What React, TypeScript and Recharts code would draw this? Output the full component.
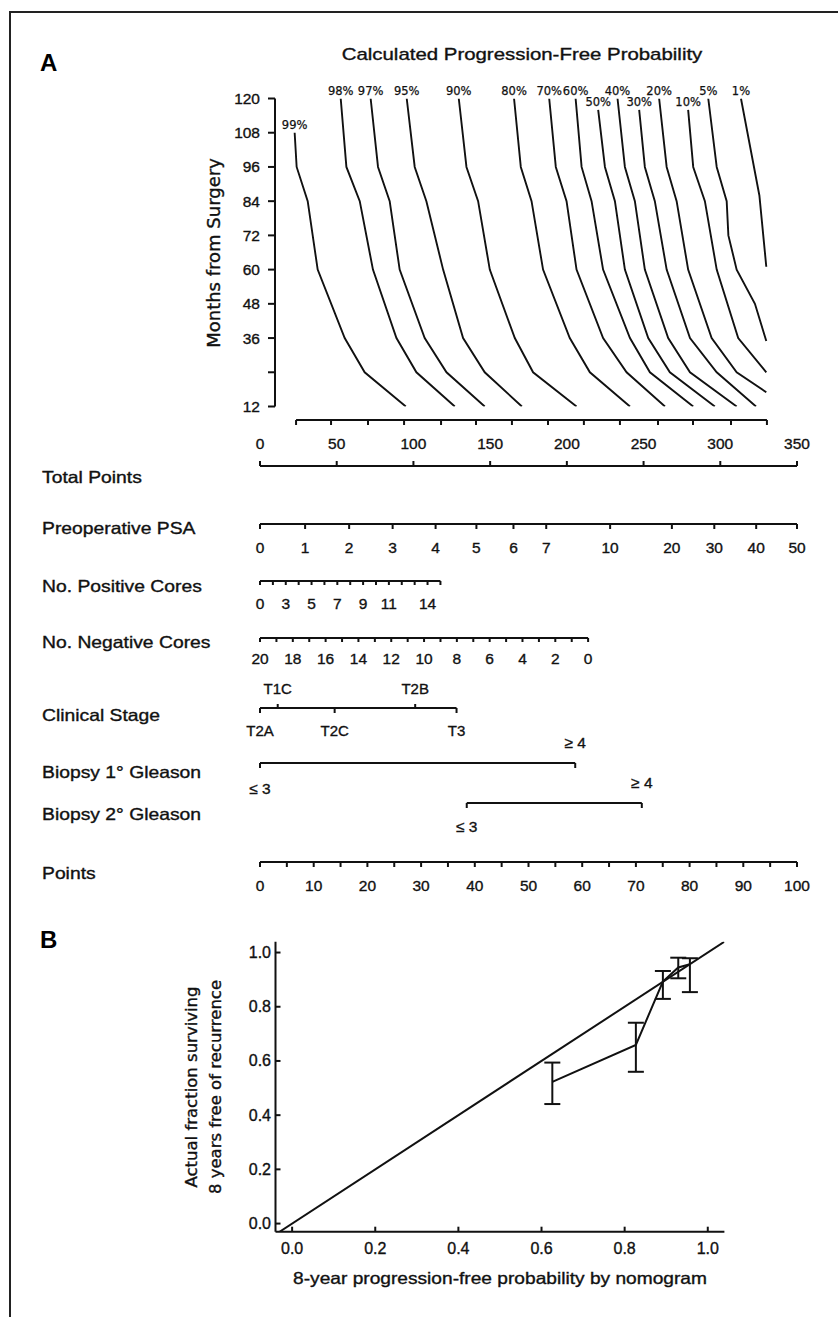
import React from 'react';
import { LineChart, Line, XAxis, YAxis, ReferenceDot, ErrorBar } from 'recharts';

const INK = '#111';
const WORD_FONT = '"Liberation Sans", Arial, Helvetica, sans-serif';
const WIDE_FONT = '"DejaVu Sans", "Liberation Sans", Arial, sans-serif';
const NUM_FONT = '"Liberation Sans", Arial, sans-serif';

// ---------- data: panel A, progression-free probability curves (x = total points, y = months) ----------
const monthTicks = [12, 24, 36, 48, 60, 72, 84, 96, 108, 120];
const monthLabels = ['12', '', '36', '48', '60', '72', '84', '96', '108', '120'];

const curve99 = { label: '99%', months: [108, 96, 84, 60, 36, 24, 12], points: [22.8, 24.1, 31.3, 37.8, 55.4, 68.4, 95.2] };
const curve98 = { label: '98%', months: [120, 96, 84, 60, 36, 24, 12], points: [52.8, 56.5, 65.2, 73.8, 89.1, 102.1, 127.1] };
const curve97 = { label: '97%', months: [120, 96, 84, 60, 36, 24, 12], points: [72.3, 77.1, 84.7, 91.2, 107.5, 121.7, 146.6] };
const curve95 = { label: '95%', months: [120, 96, 84, 60, 36, 24, 12], points: [95.8, 101.0, 108.6, 119.5, 132.5, 146.6, 170.8] };
const curve90 = { label: '90%', months: [120, 96, 84, 60, 36, 24, 12], points: [129.7, 134.7, 142.3, 149.9, 166.2, 178.1, 206.4] };
const curve80 = { label: '80%', months: [120, 96, 84, 60, 36, 24, 12], points: [165.7, 170.1, 177.1, 184.6, 202.0, 215.1, 241.2] };
const curve70 = { label: '70%', months: [120, 96, 84, 60, 36, 24, 12], points: [188.6, 192.9, 199.9, 206.4, 223.7, 239.0, 264.0] };
const curve60 = { label: '60%', months: [120, 96, 84, 60, 36, 24, 12], points: [205.8, 209.7, 216.2, 223.7, 241.2, 254.2, 282.4] };
const curve50 = { label: '50%', months: [116, 96, 84, 60, 36, 24, 12], points: [220.5, 224.9, 231.4, 237.9, 253.1, 267.2, 296.5] };
const curve40 = { label: '40%', months: [120, 96, 84, 60, 36, 24, 12], points: [233.1, 237.9, 244.4, 250.9, 266.1, 280.3, 310.7] };
const curve30 = { label: '30%', months: [116, 96, 84, 60, 36, 24, 12], points: [247.2, 250.9, 257.4, 265.1, 280.3, 297.7, 323.3] };
const curve20 = { label: '20%', months: [120, 96, 84, 60, 36, 24, 17], points: [260.2, 265.1, 271.6, 279.1, 294.4, 310.7, 330.0] };
const curve10 = { label: '10%', months: [116, 96, 84, 60, 36, 24], points: [279.1, 282.4, 290.0, 297.7, 311.7, 330.0] };
const curve5 = { label: '5%', months: [120, 96, 84, 72, 60, 48, 35], points: [292.2, 297.7, 304.2, 305.3, 310.7, 322.6, 330.0] };
const curve1 = { label: '1%', months: [120, 86, 61], points: [313.5, 325.5, 330.0] };
const curves = [curve99, curve98, curve97, curve95, curve90, curve80, curve70, curve60, curve50, curve40, curve30, curve20, curve10, curve5, curve1];

// ---------- data: nomogram scales ----------
const curveAxisTicks = [23.5, 46.3, 70.4, 93.9, 118.0, 140.8, 164.2, 187.7, 211.1, 234.6, 259.4, 282.2, 307.0, 330.4];
const totalTicks = [0, 50, 100, 150, 200, 250, 300, 350];
const totalLabels = ['0', '50', '100', '150', '200', '250', '300', '350'];

const psaTicks = [0, 8.4, 16.6, 24.7, 32.7, 40.3, 47.2, 53.3, 65.2, 76.7, 84.6, 92.4, 100];
const psaLabels = ['0', '1', '2', '3', '4', '5', '6', '7', '10', '20', '30', '40', '50'];

const posTicks = [0, 2.4, 4.8, 7.2, 9.6, 12.0, 14.4, 16.8, 19.2, 21.6, 24.0, 26.4, 28.8, 31.2, 33.6];
const posLabels = ['0', '', '3', '', '5', '', '7', '', '9', '', '11', '', '', '14', ''];

const negTicks = [0, 3.06, 6.11, 9.17, 12.22, 15.28, 18.33, 21.39, 24.44, 27.5, 30.55, 33.61, 36.66, 39.72, 42.77, 45.83, 48.88, 51.94, 54.99, 58.05, 61.1];
const negLabels = ['20', '', '18', '', '16', '', '14', '', '12', '', '10', '', '8', '', '6', '', '4', '', '2', '', '0'];

const stageLowTicks = [0, 13.9, 36.6];
const stageLowLabels = ['T2A', 'T2C', 'T3'];
const stageHighTicks = [3.3, 28.9];
const stageHighLabels = ['T1C', 'T2B'];

const gleason1Ticks = [0, 58.7];
const gleason2Ticks = [38.5, 71.1];
const gleasonLabels = ['≤ 3', '≥ 4'];

const pointTicks = [0, 5, 10, 15, 20, 25, 30, 35, 40, 45, 50, 55, 60, 65, 70, 75, 80, 85, 90, 95, 100];
const pointLabels = ['0', '', '10', '', '20', '', '30', '', '40', '', '50', '', '60', '', '70', '', '80', '', '90', '', '100'];

// ---------- data: panel B calibration ----------
const calTicks = [0, 0.2, 0.4, 0.6, 0.8, 1.0];
const calLabels = ['0.0', '0.2', '0.4', '0.6', '0.8', '1.0'];
const calPredicted = [0.626, 0.827, 0.892, 0.929, 0.957];
const calObserved = [0.523, 0.659, 0.893, 0.945, 0.957];
const calLower = [0.441, 0.56, 0.829, 0.905, 0.854];
const calUpper = [0.594, 0.741, 0.932, 0.981, 0.979];
const diagonalEnds = [-0.033, 1.04];

// ---------- layout ----------
const PAGE_W = 838;
const PAGE_H = 1317;
const PT0_PX = 260;
const PT100_PX = 797;
const pxOfPoints = (p: number) => PT0_PX + (p * (PT100_PX - PT0_PX)) / 100;
const pxOfTotal = (t: number) => PT0_PX + (t * (PT100_PX - PT0_PX)) / 350;
const TEXT_STROKE = 0.35;

type AxisProps = {
  axisY: number;
  domain: [number, number];
  toPx: (v: number) => number;
  ticks: number[];
  labels?: string[];
  side: 'down' | 'up';
  tickLen?: number;
  labelGap?: number;
  axisLine?: boolean;
  fontSize?: number;
};

function NomoAxis({ axisY, domain, toPx, ticks, labels, side, tickLen = 5, labelGap = 23, axisLine = true, fontSize = 15.5 }: AxisProps) {
  const left = toPx(domain[0]);
  const right = toPx(domain[1]);
  const H = 60;
  const AX_H = 50;
  const down = side === 'down';
  const top = down ? axisY - (H - AX_H) : axisY - AX_H;
  const rows = [{ v: domain[0], z: 0 }, { v: domain[1], z: 0 }];
  const renderTick = (p: any) => {
    const i = ticks.indexOf(p.payload.value);
    const text = labels ? labels[i] ?? '' : '';
    return (
      <text
        x={p.x}
        y={p.y}
        textAnchor="middle"
        dominantBaseline="central"
        fontSize={fontSize}
        fontFamily={NUM_FONT}
        fill={INK}
        stroke={INK}
        strokeWidth={TEXT_STROKE}
      >
        {text}
      </text>
    );
  };
  return (
    <div style={{ position: 'absolute', left: 0, top }}>
      <LineChart width={PAGE_W} height={H} margin={{ top: 0, bottom: 0, left, right: PAGE_W - right }} data={rows}>
        <XAxis
          type="number"
          dataKey="v"
          domain={domain}
          ticks={ticks}
          interval={0}
          orientation={down ? 'bottom' : 'top'}
          height={AX_H}
          tickSize={tickLen}
          tickMargin={labelGap - tickLen}
          axisLine={axisLine ? { stroke: INK, strokeWidth: 2 } : false}
          tickLine={tickLen > 0 ? { stroke: INK, strokeWidth: 2 } : false}
          tick={renderTick}
          allowDataOverflow
        />
        <YAxis hide domain={[0, 1]} />
        <Line dataKey="z" stroke="none" dot={false} activeDot={false} isAnimationActive={false} />
      </LineChart>
    </div>
  );
}

const textStyle = (x: number, y: number, size: number, family: string = WORD_FONT): React.CSSProperties => ({
  position: 'absolute',
  left: x,
  top: y,
  fontFamily: family,
  fontSize: size,
  lineHeight: 1,
  whiteSpace: 'nowrap',
  color: INK,
  WebkitTextStroke: `${TEXT_STROKE}px ${INK}`,
});

function RowLabel({ y, text }: { y: number; text: string }) {
  return (
    <div style={{ ...textStyle(42, y, 16.5), transform: 'translateY(-50%) scaleX(1.17)', transformOrigin: '0 50%' }}>{text}</div>
  );
}

function CurvesChart() {
  const renderMonthTick = (p: any) => {
    const i = monthTicks.indexOf(p.payload.value);
    return (
      <text
        x={p.x}
        y={p.y}
        textAnchor="end"
        dominantBaseline="central"
        fontSize={15.5}
        fontFamily={NUM_FONT}
        fill={INK}
        stroke={INK}
        strokeWidth={TEXT_STROKE}
      >
        {monthLabels[i] ?? ''}
      </text>
    );
  };
  return (
    <div style={{ position: 'absolute', left: 0, top: 0 }}>
      <LineChart width={PAGE_W} height={430} margin={{ top: 98.5, right: PAGE_W - 797, bottom: 23.5, left: 215 }}>
        <XAxis type="number" dataKey="tp" domain={[10, 350]} hide allowDataOverflow />
        <YAxis
          type="number"
          domain={[12, 120]}
          ticks={monthTicks}
          interval={0}
          width={60}
          tickSize={7}
          tickMargin={8}
          axisLine={{ stroke: INK, strokeWidth: 2 }}
          tickLine={{ stroke: INK, strokeWidth: 2 }}
          tick={renderMonthTick}
          allowDataOverflow
        />
        {curves.map((c) => (
          <Line
            key={c.label}
            data={c.months.map((m, i) => ({ tp: c.points[i], m }))}
            dataKey="m"
            stroke={INK}
            strokeWidth={1.9}
            dot={false}
            activeDot={false}
            isAnimationActive={false}
          />
        ))}
        {curves.map((c) => (
          <ReferenceDot
            key={'lab' + c.label}
            x={c.points[0]}
            y={c.months[0]}
            r={0}
            fill="none"
            stroke="none"
            label={{ value: c.label, position: 'top', offset: 4, fontSize: 11.5, fontFamily: WIDE_FONT, fill: INK, stroke: INK, strokeWidth: 0.25 }}
          />
        ))}
      </LineChart>
    </div>
  );
}

function CalibrationChart() {
  const calRows = calPredicted.map((x, i) => ({
    x,
    y: calObserved[i],
    err: [calObserved[i] - calLower[i], calUpper[i] - calObserved[i]],
  }));
  const diagRows = diagonalEnds.map((v) => ({ x: v, y: v }));
  const X_GAP = 16.6;
  const Y_GAP = 4.5;
  const renderX = (p: any) => {
    const i = calTicks.indexOf(p.payload.value);
    const ay = p.y - X_GAP;
    return (
      <g>
        <line x1={p.x} x2={p.x} y1={ay} y2={ay - 5} stroke={INK} strokeWidth={2} />
        <text x={p.x} y={p.y} textAnchor="middle" dominantBaseline="central" fontSize={16} fontFamily={NUM_FONT} fill={INK} stroke={INK} strokeWidth={TEXT_STROKE}>
          {calLabels[i]}
        </text>
      </g>
    );
  };
  const renderY = (p: any) => {
    const i = calTicks.indexOf(p.payload.value);
    const ax = p.x + Y_GAP;
    return (
      <g>
        <line x1={ax} x2={ax + 5} y1={p.y} y2={p.y} stroke={INK} strokeWidth={2} />
        <text x={p.x} y={p.y} textAnchor="end" dominantBaseline="central" fontSize={16} fontFamily={NUM_FONT} fill={INK} stroke={INK} strokeWidth={TEXT_STROKE}>
          {calLabels[i]}
        </text>
      </g>
    );
  };
  return (
    <div style={{ position: 'absolute', left: 0, top: 900 }}>
      <LineChart width={PAGE_W} height={417} margin={{ top: 41.7, right: PAGE_W - 724.4, bottom: 45.3, left: 215.5 }}>
        <XAxis
          type="number"
          dataKey="x"
          domain={[-0.04, 1.04]}
          ticks={calTicks}
          interval={0}
          height={40}
          tickSize={0}
          tickMargin={X_GAP}
          axisLine={{ stroke: INK, strokeWidth: 2 }}
          tickLine={false}
          tick={renderX}
          allowDataOverflow
        />
        <YAxis
          type="number"
          domain={[-0.03, 1.04]}
          ticks={calTicks}
          interval={0}
          width={60}
          tickSize={0}
          tickMargin={Y_GAP}
          axisLine={{ stroke: INK, strokeWidth: 2 }}
          tickLine={false}
          tick={renderY}
          allowDataOverflow
        />
        <Line data={diagRows} dataKey="y" stroke={INK} strokeWidth={2} dot={false} activeDot={false} isAnimationActive={false} />
        <Line data={calRows} dataKey="y" stroke={INK} strokeWidth={2} dot={false} activeDot={false} isAnimationActive={false}>
          <ErrorBar dataKey="err" direction="y" width={8} stroke={INK} strokeWidth={2} isAnimationActive={false} />
        </Line>
      </LineChart>
    </div>
  );
}

export default function App() {
  return (
    <div style={{ position: 'absolute', left: 0, top: 0, width: PAGE_W, height: PAGE_H, overflow: 'hidden', background: '#fff' }}>
      <div
        style={{
          position: 'absolute',
          left: 9,
          top: 11,
          width: PAGE_W - 9,
          height: PAGE_H - 11,
          borderTop: '2px solid #222',
          borderLeft: '2px solid #222',
          boxSizing: 'border-box',
        }}
      />
      <div style={{ position: 'absolute', left: 40, top: 62.5, transform: 'translateY(-50%)', fontFamily: NUM_FONT, fontWeight: 'bold', fontSize: 24, lineHeight: 1 }}>A</div>
      <div style={{ position: 'absolute', left: 40, top: 940, transform: 'translateY(-50%)', fontFamily: NUM_FONT, fontWeight: 'bold', fontSize: 24, lineHeight: 1 }}>B</div>

      <div style={{ ...textStyle(522, 54, 17), transform: 'translate(-50%, -50%) scaleX(1.2)' }}>Calculated Progression-Free Probability</div>
      <div style={{ ...textStyle(214, 253, 18, WIDE_FONT), transform: 'translate(-50%, -50%) rotate(-90deg)' }}>Months from Surgery</div>

      <CurvesChart />

      <NomoAxis axisY={420} domain={[23.5, 330.4]} toPx={pxOfTotal} ticks={curveAxisTicks} side="down" />
      <NomoAxis axisY={466} domain={[0, 350]} toPx={pxOfTotal} ticks={totalTicks} labels={totalLabels} side="up" labelGap={23} />
      <NomoAxis axisY={524} domain={[0, 100]} toPx={pxOfPoints} ticks={psaTicks} labels={psaLabels} side="down" labelGap={23} />
      <NomoAxis axisY={580.5} domain={[0, 33.6]} toPx={pxOfPoints} ticks={posTicks} labels={posLabels} side="down" tickLen={4} labelGap={22.5} />
      <NomoAxis axisY={638} domain={[0, 61.1]} toPx={pxOfPoints} ticks={negTicks} labels={negLabels} side="down" tickLen={4} labelGap={20} />
      <NomoAxis axisY={708} domain={[0, 36.6]} toPx={pxOfPoints} ticks={stageLowTicks} labels={stageLowLabels} side="down" tickLen={5} labelGap={22} fontSize={15} />
      <NomoAxis axisY={708} domain={[0, 36.6]} toPx={pxOfPoints} ticks={stageHighTicks} labels={stageHighLabels} side="up" tickLen={4} labelGap={20} axisLine={false} fontSize={15} />
      <NomoAxis axisY={763.3} domain={[0, 58.7]} toPx={pxOfPoints} ticks={gleason1Ticks} labels={[gleasonLabels[0], '']} side="down" labelGap={25} />
      <NomoAxis axisY={763.3} domain={[0, 58.7]} toPx={pxOfPoints} ticks={[gleason1Ticks[1]]} labels={[gleasonLabels[1]]} side="up" tickLen={0} labelGap={20.6} axisLine={false} />
      <NomoAxis axisY={803.3} domain={[38.5, 71.1]} toPx={pxOfPoints} ticks={gleason2Ticks} labels={[gleasonLabels[0], '']} side="down" labelGap={23.4} />
      <NomoAxis axisY={803.3} domain={[38.5, 71.1]} toPx={pxOfPoints} ticks={[gleason2Ticks[1]]} labels={[gleasonLabels[1]]} side="up" tickLen={0} labelGap={20.6} axisLine={false} />
      <NomoAxis axisY={862} domain={[0, 100]} toPx={pxOfPoints} ticks={pointTicks} labels={pointLabels} side="down" labelGap={23} />

      <RowLabel y={477} text="Total Points" />
      <RowLabel y={528} text="Preoperative PSA" />
      <RowLabel y={586} text="No. Positive Cores" />
      <RowLabel y={642} text="No. Negative Cores" />
      <RowLabel y={715} text="Clinical Stage" />
      <RowLabel y={771.7} text="Biopsy 1° Gleason" />
      <RowLabel y={814.3} text="Biopsy 2° Gleason" />
      <RowLabel y={872.7} text="Points" />

      <CalibrationChart />

      <div style={{ ...textStyle(192, 1087, 16.5, WIDE_FONT), transform: 'translate(-50%, -50%) rotate(-90deg)' }}>Actual fraction surviving</div>
      <div style={{ ...textStyle(216, 1087, 16.5, WIDE_FONT), transform: 'translate(-50%, -50%) rotate(-90deg)' }}>8 years free of recurrence</div>
      <div style={{ ...textStyle(500, 1278, 16.5), transform: 'translate(-50%, -50%) scaleX(1.16)' }}>8-year progression-free probability by nomogram</div>
    </div>
  );
}
